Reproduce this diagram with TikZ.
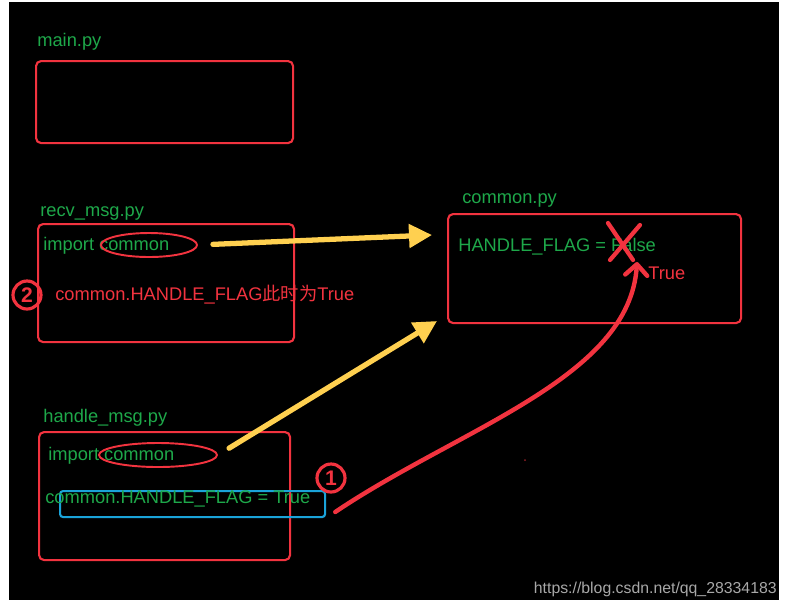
\documentclass[tikz,border=0pt]{standalone}
\usepackage{fontspec}
\setmainfont{Liberation Sans}
\newfontfamily\cjk{Noto Sans CJK SC}
\usetikzlibrary{positioning,arrows.meta,shapes.geometric}
\definecolor{InkRed}{HTML}{F2333F}
\definecolor{CodeGreen}{HTML}{1EA84A}
\definecolor{MarkYellow}{HTML}{FFD050}
\definecolor{BoxBlue}{HTML}{1AA3D9}
\definecolor{MarkGray}{HTML}{A8A8A8}

\begin{document}
\begin{tikzpicture}[x=0.2mm, y=-0.2mm,
  file/.style={draw=InkRed, line width=1.2pt, rounded corners=1mm, anchor=north west, inner sep=0pt},
  fname/.style={text=CodeGreen, anchor=base west, inner sep=0pt, font=\fontsize{10.4}{12}\selectfont},
  note/.style={text=InkRed, anchor=base west, inner sep=0pt, font=\fontsize{10.4}{12}\selectfont},
  ring/.style={draw=InkRed, ellipse, line width=1.1pt, inner sep=0pt},
  numring/.style={circle, draw=InkRed, line width=1.8pt, text=InkRed, minimum size=5.6mm, inner sep=0pt, font=\bfseries\fontsize{12}{12}\selectfont},
  yarr/.style={-{Triangle[length=4.6mm,width=4.6mm]}, line width=3pt, draw=MarkYellow, line cap=round},
  rarr/.style={-{Straight Barb[length=2.2mm,width=4.4mm,round]}, line width=2.5pt, draw=InkRed, line cap=round},
  xmark/.style={draw=InkRed, line width=2.4pt, line cap=round}
]
  \useasboundingbox (0,0) rectangle (788,608);
  \fill[white] (0,0) rectangle (788,608);
  \fill[black] (9,2) rectangle (779,600);

  % main.py
  \node[fname] (mainlbl) at (37,46) {main.py};
  \node[file, minimum width=51.4mm, minimum height=16.4mm] (mainbox) at (35,60) {};

  % recv_msg.py
  \node[fname] (recvlbl) at (40,216) {recv\_msg.py};
  \node[file, minimum width=51.2mm, minimum height=23.6mm] (recvbox) at (37,223) {};
  \node[fname] (recvimp) at (43,250) {import common};
  \node[ring, minimum width=19.2mm, minimum height=4.8mm] (recvell) at (149,245) {};
  \node[note] (recvnote) at (55,300) {common.HANDLE\_FLAG{\cjk 此时为}True};
  \node[numring] (mark2) at (27,295) {2};

  % common.py
  \node[fname] (commonlbl) at (462,203) {common.py};
  \node[file, minimum width=58.6mm, minimum height=21.8mm] (commonbox) at (447,213) {};
  \node[fname] (flagline) at (458,251) {HANDLE\_FLAG = False};
  \node[note] (truenote) at (648,279) {True};
  \draw[xmark] (608,223) -- (633,260);
  \draw[xmark] (640,225) -- (610,260);

  % handle_msg.py
  \node[fname] (handlelbl) at (43,422) {handle\_msg.py};
  \node[file, minimum width=50.2mm, minimum height=25.6mm] (handlebox) at (38,431) {};
  \node[fname] (handleimp) at (48,460) {import common};
  \node[ring, minimum width=23.6mm, minimum height=4.8mm] (handleell) at (158,455) {};
  \node[draw=BoxBlue, line width=1.2pt, rounded corners=0.6mm, anchor=north west,
    inner sep=0pt, minimum width=53mm, minimum height=5.2mm] (setbox) at (59,490) {};
  \node[fname] (setline) at (45,503) {common.HANDLE\_FLAG = True};
  \node[numring] (mark1) at (331,478) {1};

  \coordinate (tipA) at (432,235);
  \coordinate (tipB) at (437,321);
  \coordinate (flagtip) at (637,262);

  \draw[yarr, shorten <=3mm] (recvell.east) -- (tipA);
  \draw[yarr, shorten <=2.6mm] (handleell.east) -- (tipB);
  \draw[rarr, shorten <=2.2mm] (setbox.south east) .. controls (460,428) and (630,378) .. (flagtip);

  \fill[InkRed!60!black] (525,460) circle (1);
  \node[anchor=base east, text=MarkGray, inner sep=0pt, font=\fontsize{9}{10}\selectfont] (wmark) at (777,593) {https://blog.csdn.net/qq\_28334183};
\end{tikzpicture}
\end{document}
